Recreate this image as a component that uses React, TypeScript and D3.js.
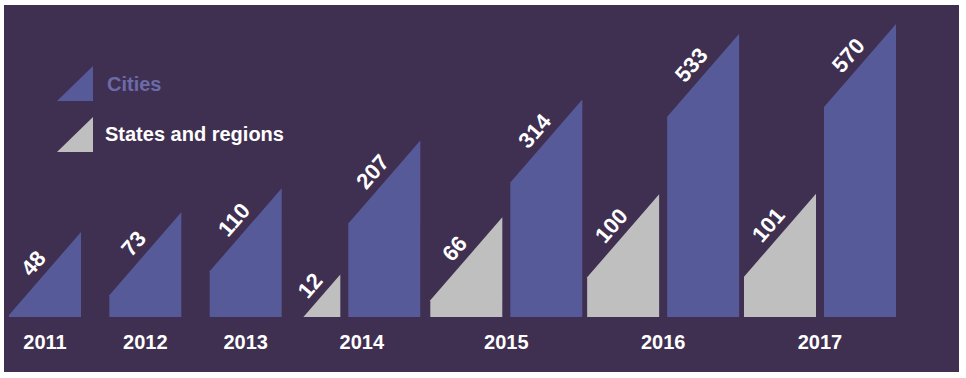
import React from 'react';
import * as d3 from 'd3';

const years = ['2011', '2012', '2013', '2014', '2015', '2016', '2017'];
const citiesValues = [48, 73, 110, 207, 314, 533, 570];
const statesValues: (number | null)[] = [null, null, null, 12, 66, 100, 101];
const seriesNames = ['Cities', 'States and regions'];

const W = 966;
const H = 378;
const BASE = 317;
const BAR_W = 72;
const RISE = 83;
const GAP = 8;
const YEAR_GAP = 70;
const FONT = "'Liberation Sans', Arial, Helvetica, sans-serif";
const BG = '#3f2f50';
const CITY = '#575a98';
const STATE = '#bfbfbf';
const CITY_TEXT = '#6c6ba9';

type Shape = { d: string; sx: number; sy: number; ex: number; ey: number; value: number; fill: string };

export default function App() {
  const hScale = d3.scaleSqrt().domain([0, d3.max(citiesValues) as number]).range([0, 293]);
  const widthOf = (h: number) => (h >= RISE ? BAR_W : (BAR_W * h) / RISE);

  const groupWidths = years.map((_, i) => {
    const wc = widthOf(hScale(citiesValues[i]));
    const sv = statesValues[i];
    return sv == null ? wc : widthOf(hScale(sv)) + GAP + wc;
  });
  const unitCenters: number[] = [];
  let acc = 0;
  groupWidths.forEach((gw, i) => {
    unitCenters.push(acc + gw / 2);
    acc += gw + YEAR_GAP;
  });
  const xScale = d3
    .scaleLinear()
    .domain([unitCenters[0], unitCenters[unitCenters.length - 1]])
    .range([45, 820]);
  const line = d3.line();

  const makeShape = (r: number, value: number, fill: string): Shape => {
    const h = hScale(value);
    const w = widthOf(h);
    const l = r - w;
    const lt = BASE - Math.max(0, h - RISE);
    const pts: [number, number][] =
      h >= RISE
        ? [[l, BASE], [l, lt], [r, BASE - h], [r, BASE]]
        : [[l, BASE], [r, BASE - h], [r, BASE]];
    return { d: (line(pts) as string) + 'Z', sx: l, sy: lt, ex: r, ey: BASE - h, value, fill };
  };

  const shapes: Shape[] = [];
  const yearCenters: number[] = [];
  years.forEach((_, i) => {
    const c = xScale(unitCenters[i]);
    yearCenters.push(c);
    const cv = citiesValues[i];
    const sv = statesValues[i];
    const wc = widthOf(hScale(cv));
    if (sv == null) {
      shapes.push(makeShape(c + wc / 2, cv, CITY));
    } else {
      const ws = widthOf(hScale(sv));
      const gw = ws + GAP + wc;
      const sr = c - gw / 2 + ws;
      shapes.push(makeShape(sr, sv, STATE));
      shapes.push(makeShape(sr + GAP + wc, cv, CITY));
    }
  });

  const legendTri = (by: number) =>
    (line([[57, by], [93, by - 35], [93, by]]) as string) + 'Z';

  return (
    <svg
      width={W}
      height={H}
      style={{ position: 'absolute', left: 0, top: 0, background: '#ffffff' }}
    >
      <rect x={4} y={5} width={955} height={367} fill={BG} />
      {shapes.map((s, i) => {
        const mx = (s.sx + s.ex) / 2;
        const my = (s.sy + s.ey) / 2;
        const ang = (Math.atan2(s.ey - s.sy, s.ex - s.sx) * 180) / Math.PI;
        return (
          <g key={i}>
            <path d={s.d} fill={s.fill} />
            <text
              transform={`translate(${mx},${my}) rotate(${ang})`}
              y={-8}
              textAnchor="middle"
              fill="#ffffff"
              fontFamily={FONT}
              fontWeight="bold"
              fontSize={22}
            >
              {s.value}
            </text>
          </g>
        );
      })}
      {years.map((y, i) => (
        <text
          key={y}
          x={yearCenters[i]}
          y={349}
          textAnchor="middle"
          fill="#ffffff"
          fontFamily={FONT}
          fontWeight="bold"
          fontSize={20}
        >
          {y}
        </text>
      ))}
      <path d={legendTri(101)} fill={CITY} />
      <text x={107} y={91} fill={CITY_TEXT} fontFamily={FONT} fontWeight="bold" fontSize={20}>
        {seriesNames[0]}
      </text>
      <path d={legendTri(152)} fill={STATE} />
      <text x={105} y={141} fill="#ffffff" fontFamily={FONT} fontWeight="bold" fontSize={20}>
        {seriesNames[1]}
      </text>
    </svg>
  );
}
